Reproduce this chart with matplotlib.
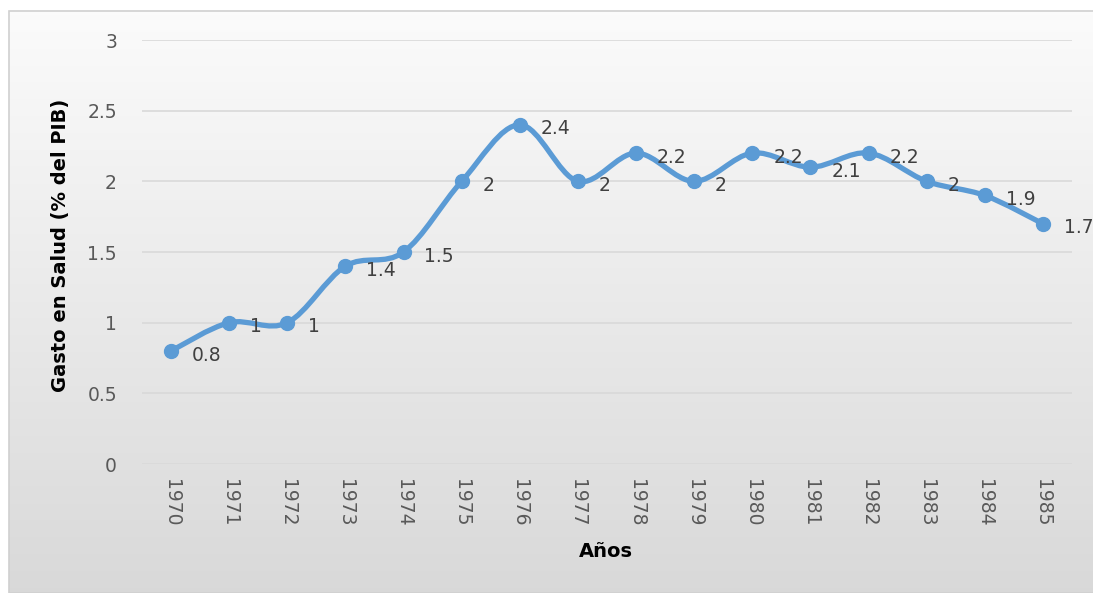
import numpy as np
import matplotlib
matplotlib.use("Agg")
import matplotlib.pyplot as plt
from matplotlib.path import Path
from matplotlib.patches import PathPatch, Rectangle

# --- data ---
years = [str(y) for y in range(1970, 1986)]
gasto = [0.8, 1.0, 1.0, 1.4, 1.5, 2.0, 2.4, 2.0, 2.2, 2.0, 2.2, 2.1, 2.2, 2.0, 1.9, 1.7]
labels = ["0.8", "1", "1", "1.4", "1.5", "2", "2.4", "2", "2.2", "2", "2.2", "2.1", "2.2", "2", "1.9", "1.7"]
yticks = [0, 0.5, 1, 1.5, 2, 2.5, 3]
ytick_labels = ["0", "0.5", "1", "1.5", "2", "2.5", "3"]

LINE = "#5b9bd5"
TICK = "#595959"
GRID = "#d9d9d9"

W, H = 1093, 593
fig = plt.figure(figsize=(W / 100, H / 100), dpi=100)
fig.patch.set_facecolor("white")

# gradient chart-area background with thin border
bg = fig.add_axes([9 / W, 0, 1 - 9 / W, 1 - 11 / H], zorder=0)
grad = np.linspace(0.985, 0.85, 256).reshape(-1, 1)
bg.imshow(np.dstack([grad, grad, grad]), aspect="auto", extent=[0, 1, 0, 1])
bg.set_xlim(0, 1); bg.set_ylim(0, 1)
bg.axis("off")
bg.add_patch(Rectangle((0, 0), 1.2, 1, transform=bg.transAxes, fill=False,
                       edgecolor="#d0d0d0", lw=1.2, clip_on=False))

# plot area: x 142..1072 px, y 40..464 px
ax = fig.add_axes([142 / W, 1 - 464 / H, 930 / W, 424 / H], zorder=1)
ax.patch.set_alpha(0)
for s in ax.spines.values():
    s.set_visible(False)

x = np.arange(len(years))
y = np.array(gasto)

# smoothed line: cubic Bezier segments (Excel-style smoothing)
verts = [(x[0], y[0])]
codes = [Path.MOVETO]
n = len(x)
for i in range(n - 1):
    p0 = np.array([x[max(i - 1, 0)], y[max(i - 1, 0)]])
    p1 = np.array([x[i], y[i]])
    p2 = np.array([x[i + 1], y[i + 1]])
    p3 = np.array([x[min(i + 2, n - 1)], y[min(i + 2, n - 1)]])
    c1 = p1 + (p2 - p0) / 6
    c2 = p2 - (p3 - p1) / 6
    verts += [tuple(c1), tuple(c2), tuple(p2)]
    codes += [Path.CURVE4] * 3
ax.add_patch(PathPatch(Path(verts, codes), facecolor="none", edgecolor=LINE,
                       lw=3.8, capstyle="round", joinstyle="round", zorder=3))
ax.plot(x, y, ls="none", marker="o", ms=10, color=LINE, zorder=4)

for xi, yi, lab in zip(x, y, labels):
    ax.annotate(lab, (xi, yi), xytext=(15, -3), textcoords="offset points",
                ha="left", va="center", fontsize=13.5, color="#404040", zorder=5)

ax.set_xlim(-0.5, n - 0.5)
ax.set_ylim(0, 3)
ax.set_yticks(yticks)
ax.set_yticklabels(ytick_labels)
ax.yaxis.grid(True, color=GRID, lw=1.2)
ax.set_axisbelow(True)
ax.set_xticks(x)
ax.set_xticklabels(years, rotation=-90)
ax.tick_params(axis="both", length=0, colors=TICK, labelsize=13.5)
ax.tick_params(axis="y", pad=18)
ax.tick_params(axis="x", pad=11)

ax.set_xlabel("Años", fontsize=14, fontweight="bold", color="black")
ax.xaxis.set_label_coords(0.499, -0.183)
ax.set_ylabel("Gasto en Salud (% del PIB)", fontsize=14, fontweight="bold",
              color="black")
ax.yaxis.set_label_coords(-0.077, 0.516)

fig.savefig("out.png", dpi=100)
